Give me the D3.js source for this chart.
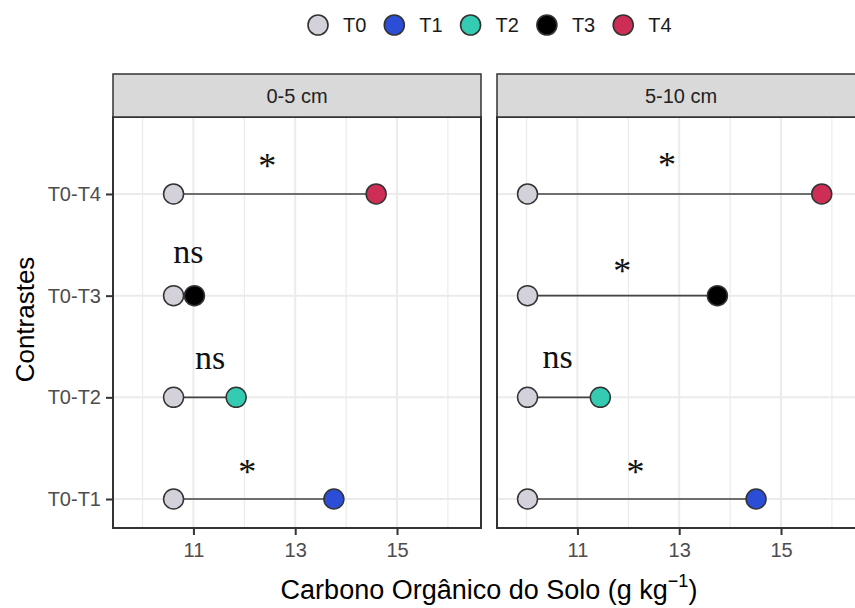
<!DOCTYPE html>
<html>
<head>
<meta charset="utf-8">
<script src="https://cdn.jsdelivr.net/npm/d3@7/dist/d3.min.js"></script>
<style>
    body { margin: 0; background: #fff; }
    svg { display: block; font-family: "Liberation Sans", Arial, sans-serif; }
</style>
</head>
<body>
<div id="chart"></div>
<script>
// --- data ---
const contrasts = ['T0-T1', 'T0-T2', 'T0-T3', 'T0-T4'];
const depths = ['0-5 cm', '5-10 cm'];
const treatments = ['T0', 'T1', 'T2', 'T3', 'T4'];
const treatmentColors = ['#D4D1DA', '#2C4ED6', '#35CBB2', '#000000', '#CE2D55'];

// T0 value per depth, then T1..T4 per depth
const t0Values = [10.61, 10.02];
const values0to5 = [13.76, 11.84, 11.02, 14.59];
const values5to10 = [14.51, 11.45, 13.75, 15.80];

// significance labels and where they sit (data units)
const signif0to5 = ['*', 'ns', 'ns', '*'];
const signif5to10 = ['*', 'ns', '*', '*'];
const labelX0to5 = [12.06, 11.33, 10.90, 12.45];
const labelY0to5 = [1.148, 2.275, 3.325, 4.157];
const labelX5to10 = [12.14, 10.61, 11.88, 12.76];
const labelY5to10 = [1.148, 2.285, 3.128, 4.167];

const xMajor = [11, 13, 15];
const xMinor = [10, 12, 14, 16];

const panelData = [
    { depth: depths[0], t0: t0Values[0], vals: values0to5, sig: signif0to5, lx: labelX0to5, ly: labelY0to5 },
    { depth: depths[1], t0: t0Values[1], vals: values5to10, sig: signif5to10, lx: labelX5to10, ly: labelY5to10 }
];

// --- layout ---
const width = 855, height = 608;
const panelW = 368, panelH = 411;
const panelTop = 117, stripH = 43;
const panelLefts = [113, 497];

const svg = d3.select('#chart').append('svg')
    .attr('width', width)
    .attr('height', height);

const x = d3.scaleLinear().domain([9.42, 16.65]).range([0, panelW]);
const y = d3.scaleLinear().domain([0.715, 4.757]).range([panelH, 0]);
const color = d3.scaleOrdinal().domain(treatments).range(treatmentColors);

// legend
const legend = svg.append('g').attr('transform', 'translate(318,25)');
treatments.forEach((t, i) => {
    const g = legend.append('g').attr('transform', `translate(${i * 76.3},0)`);
    g.append('circle')
        .attr('r', 10)
        .style('fill', color(t))
        .style('stroke', '#333')
        .style('stroke-width', 1.6);
    g.append('text')
        .attr('x', 25)
        .attr('dy', '0.36em')
        .style('font-size', '20px')
        .style('fill', '#1a1a1a')
        .text(t);
});

panelData.forEach((p, pi) => {
    const g = svg.append('g').attr('transform', `translate(${panelLefts[pi]},${panelTop})`);

    // strip
    svg.append('rect')
        .attr('x', panelLefts[pi])
        .attr('y', panelTop - stripH)
        .attr('width', panelW)
        .attr('height', stripH)
        .style('fill', '#D9D9D9')
        .style('stroke', '#333')
        .style('stroke-width', 1.5);
    svg.append('text')
        .attr('x', panelLefts[pi] + panelW / 2)
        .attr('y', panelTop - stripH / 2)
        .attr('dy', '0.36em')
        .attr('text-anchor', 'middle')
        .style('font-size', '20px')
        .style('fill', '#222')
        .text(p.depth);

    // grid
    g.selectAll('.minor')
        .data(xMinor)
        .enter().append('line')
        .attr('x1', d => x(d)).attr('x2', d => x(d))
        .attr('y1', 0).attr('y2', panelH)
        .style('stroke', '#EBEBEB')
        .style('stroke-width', 1.2);
    g.selectAll('.majorx')
        .data(xMajor)
        .enter().append('line')
        .attr('x1', d => x(d)).attr('x2', d => x(d))
        .attr('y1', 0).attr('y2', panelH)
        .style('stroke', '#EBEBEB')
        .style('stroke-width', 2);
    g.selectAll('.majory')
        .data(contrasts)
        .enter().append('line')
        .attr('x1', 0).attr('x2', panelW)
        .attr('y1', (d, i) => y(i + 1)).attr('y2', (d, i) => y(i + 1))
        .style('stroke', '#EBEBEB')
        .style('stroke-width', 2);

    // segments
    g.selectAll('.seg')
        .data(p.vals)
        .enter().append('line')
        .attr('x1', x(p.t0))
        .attr('x2', d => x(d))
        .attr('y1', (d, i) => y(i + 1))
        .attr('y2', (d, i) => y(i + 1))
        .style('stroke', '#444')
        .style('stroke-width', 1.6);

    // T0 points
    g.selectAll('.t0')
        .data(contrasts)
        .enter().append('circle')
        .attr('cx', x(p.t0))
        .attr('cy', (d, i) => y(i + 1))
        .attr('r', 10)
        .style('fill', color('T0'))
        .style('stroke', '#333')
        .style('stroke-width', 1.5);

    // treatment points
    g.selectAll('.tx')
        .data(p.vals)
        .enter().append('circle')
        .attr('cx', d => x(d))
        .attr('cy', (d, i) => y(i + 1))
        .attr('r', 10)
        .style('fill', (d, i) => color(treatments[i + 1]))
        .style('stroke', '#333')
        .style('stroke-width', 1.5);

    // significance labels
    g.selectAll('.sig')
        .data(p.sig)
        .enter().append('text')
        .attr('x', (d, i) => x(p.lx[i]))
        .attr('y', (d, i) => y(p.ly[i]))
        .attr('text-anchor', 'middle')
        .style('font-family', '"Liberation Serif", "Times New Roman", serif')
        .style('font-size', d => d === '*' ? '36px' : '34px')
        .style('fill', '#111')
        .text(d => d);

    // panel border
    g.append('rect')
        .attr('width', panelW)
        .attr('height', panelH)
        .style('fill', 'none')
        .style('stroke', '#333')
        .style('stroke-width', 2);

    // x axis
    const xAxis = g.append('g')
        .attr('transform', `translate(0,${panelH})`)
        .call(d3.axisBottom(x).tickValues(xMajor).tickSize(7).tickSizeOuter(0).tickPadding(8));
    xAxis.select('.domain').remove();
    xAxis.selectAll('line').style('stroke', '#333').style('stroke-width', 2);
    xAxis.selectAll('text')
        .style('font-size', '20px')
        .style('fill', '#4D4D4D')
        .style('font-family', '"Liberation Sans", Arial, sans-serif');

    // y axis only on first panel
    if (pi === 0) {
        const yAxis = g.append('g')
            .call(d3.axisLeft(y).tickValues([1, 2, 3, 4])
                .tickFormat(d => contrasts[d - 1])
                .tickSize(7).tickSizeOuter(0).tickPadding(5));
        yAxis.select('.domain').remove();
        yAxis.selectAll('line').style('stroke', '#333').style('stroke-width', 2);
        yAxis.selectAll('text')
            .style('font-size', '20px')
            .style('fill', '#4D4D4D')
            .style('font-family', '"Liberation Sans", Arial, sans-serif');
    }
});

// axis titles
svg.append('text')
    .attr('transform', `translate(25,${panelTop + panelH / 2 - 3}) rotate(-90)`)
    .attr('text-anchor', 'middle')
    .attr('dy', '0.36em')
    .style('font-size', '26px')
    .style('fill', '#000')
    .text('Contrastes');

const xTitle = svg.append('text')
    .attr('x', 489)
    .attr('y', 599)
    .attr('text-anchor', 'middle')
    .style('font-size', '27px')
    .style('fill', '#000');
xTitle.append('tspan').text('Carbono Orgânico do Solo (g kg');
xTitle.append('tspan').attr('dy', -12).style('font-size', '18px').text('−1');
xTitle.append('tspan').attr('dy', 12).text(')');
</script>
</body>
</html>
